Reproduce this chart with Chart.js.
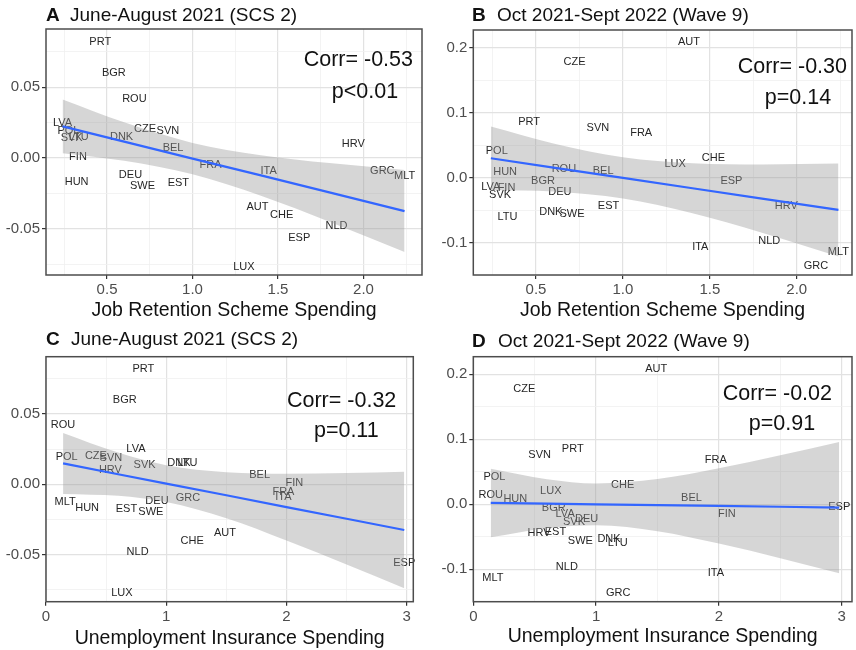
<!DOCTYPE html>
<html>
<head>
<meta charset="utf-8">
<script src="https://cdn.jsdelivr.net/npm/chart.js@4.4.1/dist/chart.umd.min.js"></script>
<style>
  html, body { margin: 0; padding: 0; background: #fff; }
  #wrap { position: relative; width: 856px; height: 650px; overflow: hidden;
          font-family: "Liberation Sans", Arial, sans-serif; }
  canvas { position: absolute; }
  .ttl { position: absolute; font-size: 19px; line-height: 20px; color: #111; white-space: nowrap; }
  .ttl.tag { font-weight: bold; }
</style>
</head>
<body>
<div id="wrap">
  <canvas id="cA" width="428" height="325" style="left:0;top:0"></canvas>
  <canvas id="cB" width="428" height="325" style="left:428px;top:0"></canvas>
  <canvas id="cC" width="428" height="325" style="left:0;top:325px"></canvas>
  <canvas id="cD" width="428" height="325" style="left:428px;top:325px"></canvas>

  <div class="ttl tag" style="left:46px;top:5px">A</div>
  <div class="ttl" style="left:70px;top:5px">June-August 2021 (SCS 2)</div>
  <div class="ttl tag" style="left:472px;top:5px">B</div>
  <div class="ttl" style="left:497px;top:5px">Oct 2021-Sept 2022 (Wave 9)</div>
  <div class="ttl tag" style="left:46px;top:329px">C</div>
  <div class="ttl" style="left:71px;top:329px">June-August 2021 (SCS 2)</div>
  <div class="ttl tag" style="left:472px;top:331px">D</div>
  <div class="ttl" style="left:498px;top:331px">Oct 2021-Sept 2022 (Wave 9)</div>
</div>

<script>
// Country codes and their values
const countries = ['PRT','BGR','ROU','LVA','POL','LTU','SVK','DNK','CZE','SVN','BEL','FIN','HUN',
                   'DEU','SWE','EST','FRA','ITA','HRV','GRC','MLT','AUT','CHE','NLD','ESP','LUX'];

// Job retention scheme spending
const jobRetention = [0.46,0.54,0.66,0.24,0.274,0.335,0.293,0.585,0.722,0.856,0.886,0.33,0.322,
                      0.637,0.707,0.917,1.105,1.445,1.94,2.11,2.24,1.38,1.521,1.842,1.624,1.30];

// Unemployment insurance spending
const unemploymentIns = [0.81,0.655,0.142,0.748,0.172,1.176,0.82,1.105,0.415,0.54,1.777,2.065,0.342,
                         0.923,0.872,0.669,1.975,1.975,0.536,1.18,0.159,1.489,1.216,0.762,2.98,0.631];

// Outcome, June-August 2021 (SCS 2)
const changeSCS2 = [0.082,0.060,0.042,0.025,0.0193,0.0152,0.0139,0.0149,0.0202,0.0191,0.0068,0.001,-0.0168,
                    -0.012,-0.020,-0.0174,-0.0052,-0.0093,0.0102,-0.0095,-0.0128,-0.0348,-0.040,-0.048,-0.0562,-0.0771];

// Outcome, Oct 2021-Sept 2022 (Wave 9)
const changeWave9 = [0.085,-0.005,0.0135,-0.0143,0.0415,-0.060,-0.0266,-0.053,0.178,0.0757,0.0102,-0.0155,0.0083,
                     -0.0222,-0.0558,-0.043,0.068,-0.106,-0.0436,-0.1365,-0.1136,0.208,0.0298,-0.097,-0.0048,0.0206];

// Linear fits with 95% confidence bands
const fitXJob = [0.24, 0.6, 1.0, 1.4, 1.8, 2.24];
const fitA   = [0.0224, 0.0116, -0.0004, -0.0123, -0.0243, -0.0375];
const upperA = [0.0414, 0.0252, 0.0107, 0.0020, -0.0036, -0.0085];
const lowerA = [0.0034, -0.0020, -0.0115, -0.0266, -0.0450, -0.0665];
const fitB   = [0.0298, 0.0155, -0.0004, -0.0163, -0.0322, -0.0497];
const upperB = [0.0785, 0.0523, 0.0313, 0.0220, 0.0202, 0.0217];
const lowerB = [-0.0189, -0.0213, -0.0321, -0.0546, -0.0846, -0.1211];

const fitXUI = [0.142, 0.6, 1.0, 1.5, 2.0, 2.5, 2.98];
const fitC   = [0.0149, 0.0072, 0.0005, -0.0078, -0.0162, -0.0245, -0.0325];
const upperC = [0.0366, 0.0226, 0.0136, 0.0086, 0.0076, 0.0081, 0.0090];
const lowerC = [-0.0068, -0.0082, -0.0126, -0.0242, -0.0400, -0.0571, -0.0740];
const fitD   = [0.0020, 0.0009, -0.0002, -0.0014, -0.0027, -0.0039, -0.0051];
const upperD = [0.0547, 0.0385, 0.0320, 0.0387, 0.0552, 0.0752, 0.0959];
const lowerD = [-0.0507, -0.0368, -0.0323, -0.0415, -0.0605, -0.0830, -0.1061];

// Tick values (major labelled, minor grid only)
const jobTicks = [0.5, 1.0, 1.5, 2.0];
const jobMinor = [0.25, 0.75, 1.25, 1.75, 2.25];
const uiTicks = [0, 1, 2, 3];
const uiMinor = [0.5, 1.5, 2.5];
const scs2Ticks = [-0.05, 0, 0.05];
const scs2Minor = [-0.075, -0.025, 0.025, 0.075];
const wave9Ticks = [-0.1, 0, 0.1, 0.2];
const wave9Minor = [-0.15, -0.05, 0.05, 0.15];

const FONT = '"Liberation Sans", Arial, sans-serif';
const pts = (xs, ys) => xs.map((x, i) => ({ x, y: ys[i] }));
const isIn = (list, v) => list.some(m => Math.abs(m - v) < 1e-9);

// Country codes written at each point
const countryLabels = {
  id: 'countryLabels',
  beforeDatasetsDraw(chart) {
    const meta = chart.getDatasetMeta(3);
    const ctx = chart.ctx;
    ctx.save();
    ctx.font = '11px ' + FONT;
    ctx.fillStyle = '#262626';
    ctx.textAlign = 'center';
    ctx.textBaseline = 'middle';
    meta.data.forEach((el, i) => ctx.fillText(countries[i], el.x, el.y));
    ctx.restore();
  }
};

// Panel frame plus the correlation note
const panelDecor = {
  id: 'panelDecor',
  afterDatasetsDraw(chart, args, opts) {
    const { ctx, chartArea: a } = chart;
    ctx.save();
    ctx.strokeStyle = '#4d4d4d';
    ctx.lineWidth = 1.5;
    ctx.strokeRect(a.left, a.top, a.right - a.left, a.bottom - a.top);
    ctx.fillStyle = '#111';
    ctx.font = '21.5px ' + FONT;
    ctx.textBaseline = 'middle';
    ctx.textAlign = 'right';
    ctx.fillText(opts.corr, a.right - opts.corrDx, a.top + opts.corrDy);
    ctx.textAlign = 'center';
    ctx.fillText(opts.p, a.right - opts.pDx, a.top + opts.pDy);
    ctx.restore();
  }
};

function makePanel(id, c) {
  const W = 428, H = 325;
  const xAll = c.xMajor.concat(c.xMinor).sort((a, b) => a - b);
  const yAll = c.yMajor.concat(c.yMinor).sort((a, b) => a - b);
  const gridColor = (major) => (ctx) => (ctx.tick && isIn(major, ctx.tick.value)) ? '#e2e2e2' : '#f0f0f0';
  const gridWidth = (major) => (ctx) => (ctx.tick && isIn(major, ctx.tick.value)) ? 1.2 : 0.8;
  const tickColor = (major) => (ctx) => (ctx.tick && isIn(major, ctx.tick.value)) ? '#333' : 'rgba(0,0,0,0)';

  new Chart(document.getElementById(id), {
    type: 'scatter',
    data: {
      datasets: [
        { type: 'line', data: pts(c.fitX, c.fit), borderColor: '#3366FF', borderWidth: 2.2,
          pointRadius: 0, fill: false, tension: 0 },
        { type: 'line', data: pts(c.fitX, c.upper), borderWidth: 0, pointRadius: 0,
          fill: '+1', backgroundColor: 'rgba(153,153,153,0.4)', cubicInterpolationMode: 'monotone' },
        { type: 'line', data: pts(c.fitX, c.lower), borderWidth: 0, pointRadius: 0,
          fill: false, cubicInterpolationMode: 'monotone' },
        { data: pts(c.xs, c.ys), pointRadius: 0, showLine: false }
      ]
    },
    options: {
      responsive: false,
      devicePixelRatio: 1,
      animation: false,
      events: [],
      layout: { padding: { left: 0, top: c.area.top, right: W - c.area.right, bottom: 0 } },
      plugins: {
        legend: { display: false },
        tooltip: { enabled: false },
        panelDecor: c.note
      },
      scales: {
        x: {
          type: 'linear', min: c.xMin, max: c.xMax,
          afterBuildTicks: s => { s.ticks = xAll.map(v => ({ value: v })); },
          afterFit: s => { s.height = H - c.area.bottom; },
          grid: { color: gridColor(c.xMajor), lineWidth: gridWidth(c.xMajor),
                  tickColor: tickColor(c.xMajor), tickLength: 4, tickWidth: 1.2 },
          border: { display: false },
          ticks: { color: '#4d4d4d', font: { family: FONT, size: 15 }, padding: 2, maxRotation: 0,
                   autoSkip: false,
                   callback: v => isIn(c.xMajor, v) ? c.xFmt(v) : '' },
          title: { display: true, text: c.xTitle, color: '#111',
                   font: { family: FONT, size: 19.5 }, padding: { top: 0, bottom: c.titlePad } }
        },
        y: {
          type: 'linear', min: c.yMin, max: c.yMax,
          afterBuildTicks: s => { s.ticks = yAll.map(v => ({ value: v })); },
          afterFit: s => { s.width = c.area.left; },
          grid: { color: gridColor(c.yMajor), lineWidth: gridWidth(c.yMajor),
                  tickColor: tickColor(c.yMajor), tickLength: 4, tickWidth: 1.2 },
          border: { display: false },
          ticks: { color: '#4d4d4d', font: { family: FONT, size: 15 }, padding: 2, autoSkip: false,
                   callback: v => isIn(c.yMajor, v) ? c.yFmt(v) : '' }
        }
      }
    },
    plugins: [countryLabels, panelDecor]
  });
}

const fmt1 = v => v.toFixed(1);
const fmt2 = v => v.toFixed(2);
const fmt0 = v => v.toFixed(0);

makePanel('cA', {
  xs: jobRetention, ys: changeSCS2, fitX: fitXJob, fit: fitA, upper: upperA, lower: lowerA,
  xMin: 0.143, xMax: 2.342, yMin: -0.0827, yMax: 0.0912,
  area: { left: 46, top: 29, right: 422, bottom: 275 },
  xMajor: jobTicks, xMinor: jobMinor, yMajor: scs2Ticks, yMinor: scs2Minor,
  xFmt: fmt1, yFmt: fmt2, xTitle: 'Job Retention Scheme Spending', titlePad: 3,
  note: { corr: 'Corr= -0.53', p: 'p<0.01', corrDx: 9, corrDy: 31, pDx: 57, pDy: 63 }
});

makePanel('cB', {
  xs: jobRetention, ys: changeWave9, fitX: fitXJob, fit: fitB, upper: upperB, lower: lowerB,
  xMin: 0.139, xMax: 2.318, yMin: -0.1497, yMax: 0.227,
  area: { left: 45.3, top: 30, right: 424, bottom: 275 },
  xMajor: jobTicks, xMinor: jobMinor, yMajor: wave9Ticks, yMinor: wave9Minor,
  xFmt: fmt1, yFmt: fmt1, xTitle: 'Job Retention Scheme Spending', titlePad: 3,
  note: { corr: 'Corr= -0.30', p: 'p=0.14', corrDx: 5, corrDy: 37, pDx: 54, pDy: 68 }
});

makePanel('cC', {
  xs: unemploymentIns, ys: changeSCS2, fitX: fitXUI, fit: fitC, upper: upperC, lower: lowerC,
  xMin: 0, xMax: 3.055, yMin: -0.0835, yMax: 0.0908,
  area: { left: 46, top: 31.7, right: 413.3, bottom: 276.7 },
  xMajor: uiTicks, xMinor: uiMinor, yMajor: scs2Ticks, yMinor: scs2Minor,
  xFmt: fmt0, yFmt: fmt2, xTitle: 'Unemployment Insurance Spending', titlePad: 0,
  note: { corr: 'Corr= -0.32', p: 'p=0.11', corrDx: 17, corrDy: 44, pDx: 67, pDy: 74 }
});

makePanel('cD', {
  xs: unemploymentIns, ys: changeWave9, fitX: fitXUI, fit: fitD, upper: upperD, lower: lowerD,
  xMin: 0, xMax: 3.084, yMin: -0.150, yMax: 0.227,
  area: { left: 45.3, top: 31.7, right: 424, bottom: 276.7 },
  xMajor: uiTicks, xMinor: uiMinor, yMajor: wave9Ticks, yMinor: wave9Minor,
  xFmt: fmt0, yFmt: fmt1, xTitle: 'Unemployment Insurance Spending', titlePad: 1.5,
  note: { corr: 'Corr= -0.02', p: 'p=0.91', corrDx: 20, corrDy: 37, pDx: 70, pDy: 67 }
});
</script>
</body>
</html>
